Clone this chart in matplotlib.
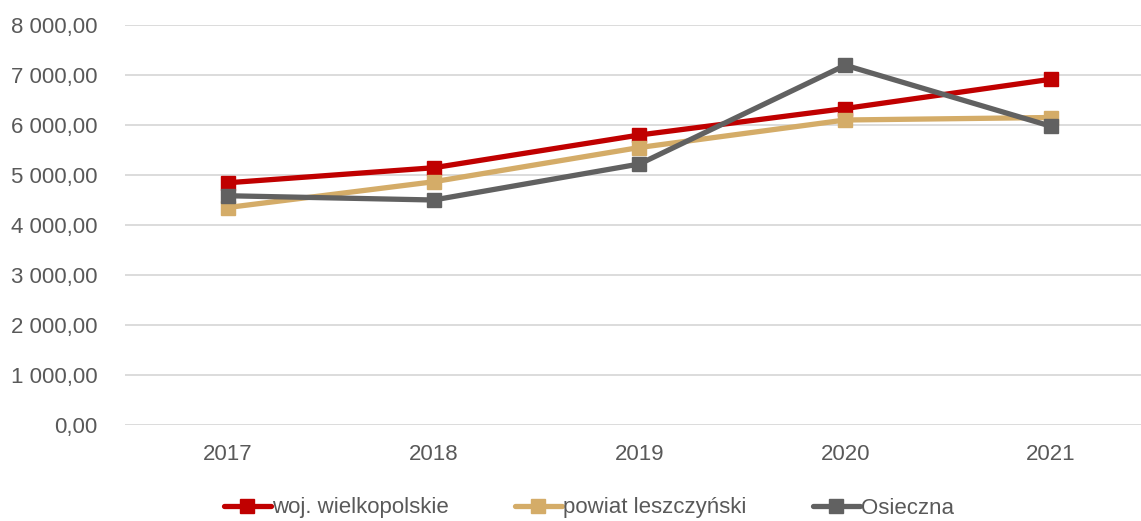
import matplotlib
matplotlib.use("Agg")
import matplotlib.pyplot as plt
from matplotlib.ticker import FuncFormatter

plt.rcParams['font.family'] = ['Liberation Sans', 'DejaVu Sans']

years = ['2017', '2018', '2019', '2020', '2021']
woj = [4845, 5145, 5800, 6330, 6915]
powiat = [4350, 4865, 5550, 6100, 6150]
osieczna = [4585, 4500, 5220, 7195, 5975]
series_names = ['woj. wielkopolskie', 'powiat leszczyński', 'Osieczna']
colors = ['#C00000', '#D4AC68', '#616161']

W, H = 1141, 521
fig = plt.figure(figsize=(W/100, H/100), dpi=100)
ax = fig.add_axes([125/W, 1-425/H, 1-125/W, 400/H])

x = list(range(len(years)))
for vals, name, c in zip([woj, powiat, osieczna], series_names, colors):
    ax.plot(x, vals, color=c, lw=3.8, marker='s', ms=10, label=name,
            solid_joinstyle='round', solid_capstyle='round', zorder=3)

ax.set_ylim(0, 8000)
ax.set_yticks(range(0, 8001, 1000))
ax.set_xlim(-0.5, 4 + 90/205.75)
ax.set_xticks(x)
ax.set_xticklabels(years)

def fmt(v, pos):
    s = f"{v:,.2f}".replace(',', ' ').replace('.', ',')
    return s
ax.yaxis.set_major_formatter(FuncFormatter(fmt))

ax.grid(axis='y', color='#D9D9D9', lw=1.3, zorder=0)
for s in ax.spines.values():
    s.set_visible(False)
ax.tick_params(axis='both', length=0, labelsize=16, colors='#595959')
ax.tick_params(axis='y', pad=20)
ax.tick_params(axis='x', pad=14)

leg = fig.legend(loc='center', bbox_to_anchor=(0.516, 1-508/H), ncol=3, frameon=False,
                 fontsize=16, handlelength=2.1, handletextpad=0.05, columnspacing=3.0,
                 labelcolor='#595959')

fig.savefig('out.png', dpi=100)
